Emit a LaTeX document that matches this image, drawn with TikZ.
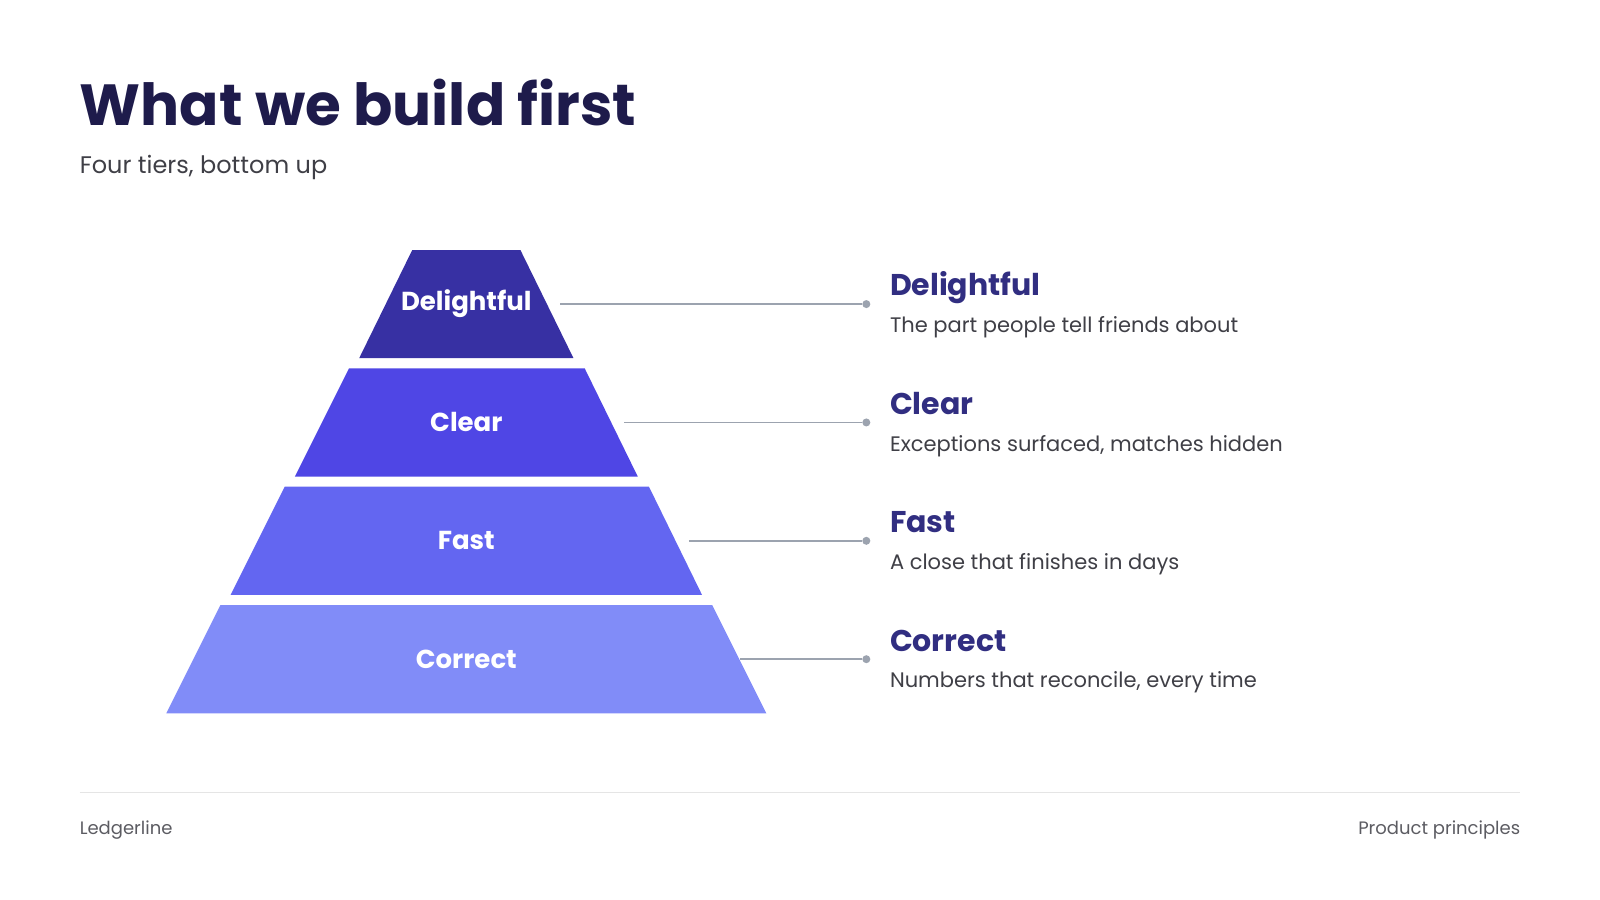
\documentclass[tikz,border=0pt]{standalone}
\usepackage{fontspec}
\setmainfont{Poppins}
\definecolor{navy}{HTML}{1E1B4B}
\definecolor{tA}{HTML}{3730A3}
\definecolor{tB}{HTML}{4F46E5}
\definecolor{tC}{HTML}{6366F1}
\definecolor{tD}{HTML}{818CF8}
\definecolor{head}{HTML}{312E81}
\definecolor{body}{HTML}{3F3F46}
\definecolor{conn}{HTML}{9CA3AF}
\begin{document}
\begin{tikzpicture}[x=1.0204pt,y=-1.0204pt,
  tier/.style={fill=#1,draw=none},
  tlabel/.style={text=white,font=\fontsize{26}{30}\selectfont\bfseries,anchor=center},
  rhead/.style={text=head,font=\fontsize{30}{34}\selectfont\bfseries,anchor=base west,inner sep=0},
  rbody/.style={text=body,font=\fontsize{21}{25}\selectfont,anchor=base west,inner sep=0},
  conn/.style={draw=conn,line width=1.5pt},
  dot/.style={circle,fill=conn,inner sep=0,minimum size=8pt}]
\useasboundingbox (0,0) rectangle (1568,882);
\node[anchor=base west,inner sep=0,text=navy,font=\fontsize{58}{64}\selectfont\bfseries] (title) at (78,123) {What we build first};
\node[anchor=base west,inner sep=0,text=body,font=\fontsize{24}{28}\selectfont] (sub) at (78,170) {Four tiers, bottom up};
\fill[tier=tA] (404,245) -- (510,245) -- (562,351) -- (352,351) -- cycle;
\fill[tier=tB] (342,361) -- (573,361) -- (625,467) -- (289,467) -- cycle;
\fill[tier=tC] (279,477) -- (636,477) -- (688,583) -- (226,583) -- cycle;
\fill[tier=tD] (216,593) -- (698,593) -- (751,699) -- (163,699) -- cycle;
\node[tlabel] (l1) at (457,298) {Delightful};
\node[tlabel] (l2) at (457,414) {Clear};
\node[tlabel] (l3) at (457,530) {Fast};
\node[tlabel] (l4) at (457,646) {Correct};
\coordinate (s1) at (549,298); \coordinate (s2) at (612,414);
\coordinate (s3) at (675,530); \coordinate (s4) at (725,646);
\node[dot] (d1) at (849,298) {}; \node[dot] (d2) at (849,414) {};
\node[dot] (d3) at (849,530) {}; \node[dot] (d4) at (849,646) {};
\draw[conn] (s1) -- (d1); \draw[conn] (s2) -- (d2);
\draw[conn] (s3) -- (d3); \draw[conn] (s4) -- (d4);
\node[rhead] (h1) at (872,290) {Delightful};
\node[rbody] (b1) at (872,326) {The part people tell friends about};
\node[rhead] (h2) at (872,406) {Clear};
\node[rbody] (b2) at (872,442) {Exceptions surfaced, matches hidden};
\node[rhead] (h3) at (872,522) {Fast};
\node[rbody] (b3) at (872,558) {A close that finishes in days};
\node[rhead] (h4) at (872,638) {Correct};
\node[rbody] (b4) at (872,674) {Numbers that reconcile, every time};
\coordinate (fl) at (78,777); \coordinate (fr) at (1490,777);
\draw[draw=black!10,line width=1pt] (fl) -- (fr);
\node[anchor=base west,inner sep=0,text=body!85,font=\fontsize{18}{22}\selectfont] (f1) at (78,818) {Ledgerline};
\node[anchor=base east,inner sep=0,text=body!85,font=\fontsize{18}{22}\selectfont] (f2) at (1490,818) {Product principles};
\end{tikzpicture}
\end{document}
